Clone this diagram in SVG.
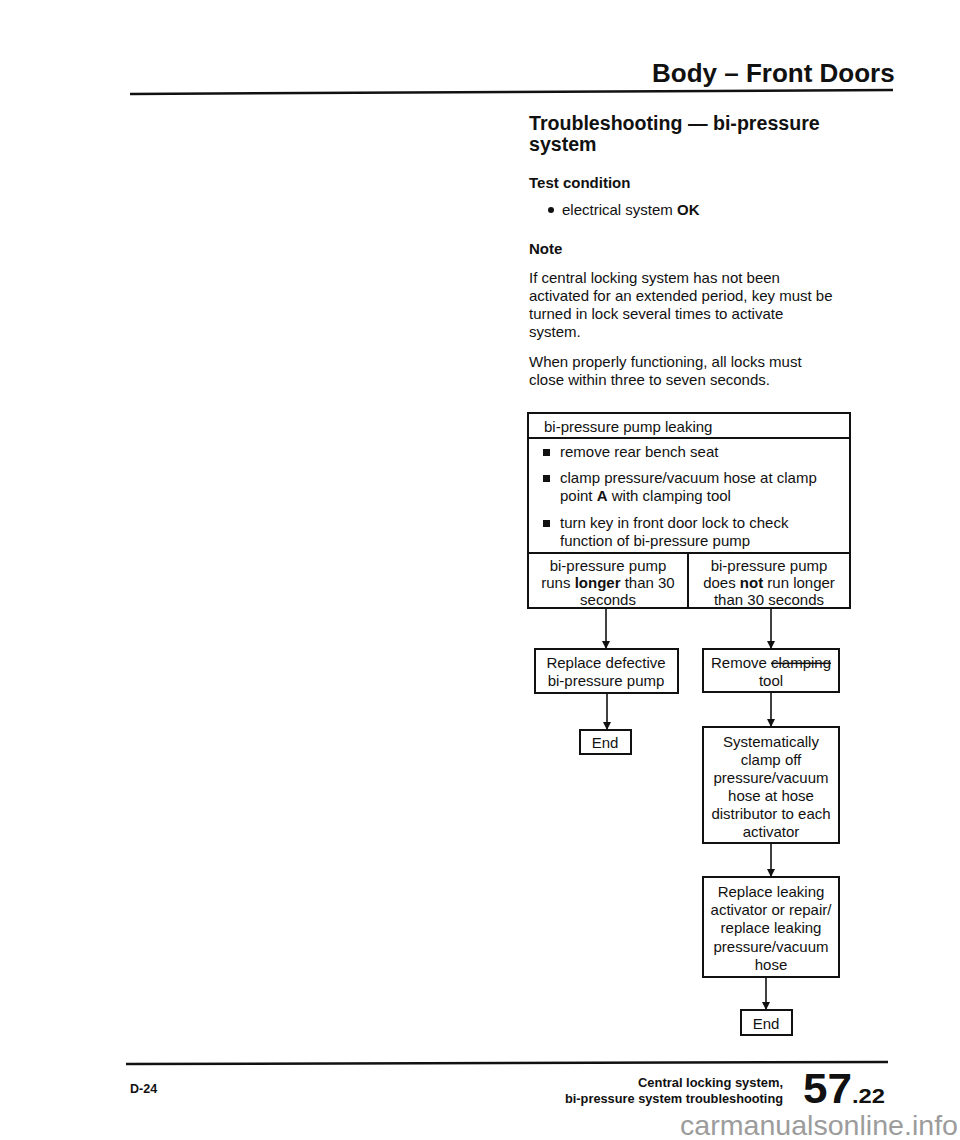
<svg xmlns="http://www.w3.org/2000/svg" width="960" height="1140" viewBox="0 0 960 1140">
<style>
  text { font-family: "Liberation Sans", Arial, sans-serif; fill: #111; }
  .hdr { font-size: 26px; font-weight: bold; }
  .title { font-size: 19.6px; font-weight: bold; }
  .sub { font-size: 15px; font-weight: bold; }
  .body { font-size: 15px; }
  .c { text-anchor: middle; }
  .b { font-weight: bold; }
  .box { fill: #fff; stroke: #111; stroke-width: 2; }
  .rule { stroke: #111; stroke-width: 2.5; fill: none; }
  .conn { stroke: #111; stroke-width: 1.6; fill: none; marker-end: url(#arr); }
  .foot { font-size: 12.5px; font-weight: bold; }
  .wm { font-size: 28px; fill: #9c9c9c; }
</style>
<defs>
  <marker id="arr" markerWidth="8" markerHeight="10" refX="7" refY="4" orient="auto" markerUnits="userSpaceOnUse" viewBox="0 0 8 8">
    <path d="M0,0 L8,4 L0,8 Z" fill="#111"/>
  </marker>
</defs>
<rect width="960" height="1140" fill="#fff"/>

<!-- page header -->
<g id="header">
  <text class="hdr" x="652" y="82">Body – Front Doors</text>
  <line class="rule" x1="130" y1="94" x2="893" y2="90"/>
</g>

<!-- intro text -->
<g id="intro">
  <text class="title" x="529" y="130">Troubleshooting — bi-pressure</text>
  <text class="title" x="529" y="151">system</text>
  <text class="sub" x="529" y="188">Test condition</text>
  <circle cx="551" cy="210" r="3" fill="#111"/>
  <text class="body" x="562" y="215">electrical system <tspan class="b">OK</tspan></text>
  <text class="sub" x="529" y="254">Note</text>
  <text class="body" x="529" y="283">If central locking system has not been</text>
  <text class="body" x="529" y="301">activated for an extended period, key must be</text>
  <text class="body" x="529" y="319">turned in lock several times to activate</text>
  <text class="body" x="529" y="337">system.</text>
  <text class="body" x="529" y="367">When properly functioning, all locks must</text>
  <text class="body" x="529" y="385">close within three to seven seconds.</text>
</g>

<!-- table node -->
<g id="table">
  <rect class="box" x="528" y="413" width="322" height="195"/>
  <line stroke="#111" stroke-width="2" x1="528" y1="438" x2="850" y2="438"/>
  <line stroke="#111" stroke-width="2" x1="528" y1="553" x2="850" y2="553"/>
  <line stroke="#111" stroke-width="2" x1="688" y1="553" x2="688" y2="608"/>
  <text class="body" x="544" y="432">bi-pressure pump leaking</text>
  <rect x="543" y="449" width="7" height="7" fill="#111"/>
  <text class="body" x="560" y="457">remove rear bench seat</text>
  <rect x="543" y="475" width="7" height="7" fill="#111"/>
  <text class="body" x="560" y="483">clamp pressure/vacuum hose at clamp</text>
  <text class="body" x="560" y="501">point <tspan class="b">A</tspan> with clamping tool</text>
  <rect x="543" y="520" width="7" height="7" fill="#111"/>
  <text class="body" x="560" y="528">turn key in front door lock to check</text>
  <text class="body" x="560" y="546">function of bi-pressure pump</text>
</g>
<g id="cell-longer">
  <text class="body c" x="608" y="571">bi-pressure pump</text>
  <text class="body c" x="608" y="588">runs <tspan class="b">longer</tspan> than 30</text>
  <text class="body c" x="608" y="605">seconds</text>
</g>
<g id="cell-not-longer">
  <text class="body c" x="769" y="571">bi-pressure pump</text>
  <text class="body c" x="769" y="588">does <tspan class="b">not</tspan> run longer</text>
  <text class="body c" x="769" y="605">than 30 seconds</text>
</g>

<!-- connectors -->
<g id="connectors">
  <line class="conn" x1="606" y1="608" x2="606" y2="648"/>
  <line class="conn" x1="771" y1="608" x2="771" y2="648"/>
  <line class="conn" x1="607" y1="693" x2="607" y2="729"/>
  <line class="conn" x1="771" y1="692" x2="771" y2="726"/>
  <line class="conn" x1="771" y1="843" x2="771" y2="876"/>
  <line class="conn" x1="766" y1="977" x2="766" y2="1009"/>
</g>

<g id="replace-pump">
  <rect class="box" x="535" y="649" width="143" height="44"/>
  <text class="body c" x="606" y="668">Replace defective</text>
  <text class="body c" x="606" y="686">bi-pressure pump</text>
</g>
<g id="end-left">
  <rect class="box" x="580" y="730" width="51" height="24"/>
  <text class="body c" x="605" y="748">End</text>
</g>
<g id="remove-tool">
  <rect class="box" x="703" y="649" width="136" height="43"/>
  <text class="body c" x="771" y="668">Remove <tspan text-decoration="line-through">clamping</tspan></text>
  <text class="body c" x="771" y="686">tool</text>
</g>
<g id="clamp-off">
  <rect class="box" x="703" y="727" width="136" height="116"/>
  <text class="body c" x="771" y="747">Systematically</text>
  <text class="body c" x="771" y="765">clamp off</text>
  <text class="body c" x="771" y="783">pressure/vacuum</text>
  <text class="body c" x="771" y="801">hose at hose</text>
  <text class="body c" x="771" y="819">distributor to each</text>
  <text class="body c" x="771" y="837">activator</text>
</g>
<g id="replace-activator">
  <rect class="box" x="703" y="877" width="136" height="100"/>
  <text class="body c" x="771" y="897">Replace leaking</text>
  <text class="body c" x="771" y="915">activator or repair/</text>
  <text class="body c" x="771" y="933">replace leaking</text>
  <text class="body c" x="771" y="952">pressure/vacuum</text>
  <text class="body c" x="771" y="970">hose</text>
</g>
<g id="end-right">
  <rect class="box" x="741" y="1010" width="51" height="25"/>
  <text class="body c" x="766" y="1029">End</text>
</g>

<!-- footer -->
<g id="footer">
  <line class="rule" x1="126" y1="1064" x2="888" y2="1062"/>
  <text class="foot" x="130" y="1093">D-24</text>
  <text class="foot" x="638" y="1087" textLength="145" lengthAdjust="spacingAndGlyphs">Central locking system,</text>
  <text class="foot" x="565" y="1103" textLength="218" lengthAdjust="spacingAndGlyphs">bi-pressure system troubleshooting</text>
  <text x="803" y="1103" style="font-size:42px;font-weight:bold" textLength="49" lengthAdjust="spacingAndGlyphs">57</text>
  <text x="852" y="1103" style="font-size:21px;font-weight:bold" textLength="33" lengthAdjust="spacingAndGlyphs">.22</text>
  <text class="wm" x="680" y="1135" textLength="278" lengthAdjust="spacingAndGlyphs">carmanualsonline.info</text>
</g>
</svg>
